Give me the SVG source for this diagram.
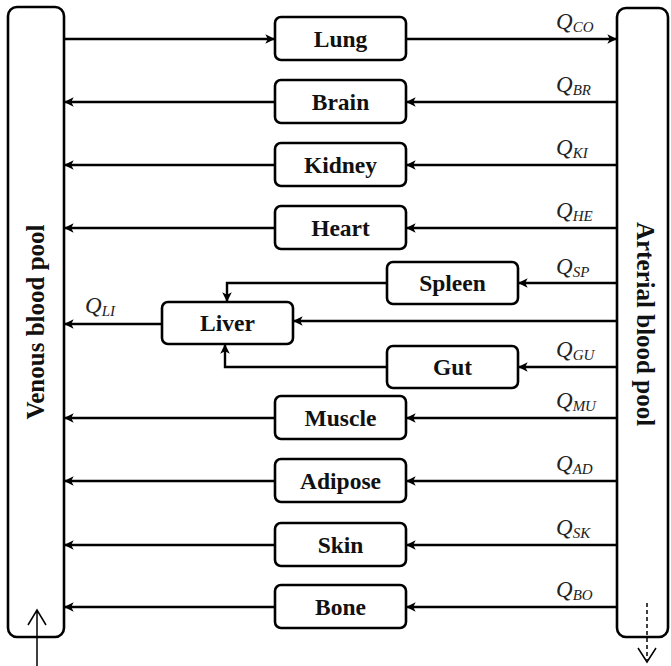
<svg xmlns="http://www.w3.org/2000/svg" width="671" height="666" viewBox="0 0 671 666">
<style>
.box{fill:#fff;stroke:#000;stroke-width:2.6}
.pool{fill:#fff;stroke:#000;stroke-width:2.6}
.lbl{font-family:"Liberation Serif",serif;font-weight:bold;font-size:23.5px;text-anchor:middle;fill:#111}
.pl{font-size:25px}
.q{font-family:"Liberation Serif",serif;font-style:italic;font-size:23px;fill:#222}
.qs{font-size:15px}
.c{fill:none;stroke:#000;stroke-width:2.4}
.t{fill:none;stroke:#000;stroke-width:1.5}
</style>
<defs>
<marker id="ah" viewBox="0 0 10 10" refX="9" refY="5" markerWidth="4" markerHeight="4" orient="auto" markerUnits="strokeWidth">
<path d="M0,0 L10,5 L0,10 L2.5,5 Z" fill="#000"/>
</marker>
</defs>
<g id="venous">
<rect class="pool" x="8" y="7" width="56" height="630" rx="9"/>
<text class="lbl pl" transform="translate(44,322) rotate(-90)">Venous blood pool</text>
</g>
<g id="arterial">
<rect class="pool" x="617" y="8" width="51" height="629" rx="9"/>
<text class="lbl pl" transform="translate(637,324) rotate(90)">Arterial blood pool</text>
</g>
<g id="lung"><rect class="box" x="275" y="17" width="131" height="43" rx="6"/><text class="lbl" x="340.5" y="47">Lung</text></g>
<g id="brain"><rect class="box" x="275" y="80" width="131" height="43" rx="6"/><text class="lbl" x="340.5" y="110">Brain</text></g>
<g id="kidney"><rect class="box" x="275" y="143" width="131" height="43" rx="6"/><text class="lbl" x="340.5" y="173">Kidney</text></g>
<g id="heart"><rect class="box" x="275" y="206" width="131" height="43" rx="6"/><text class="lbl" x="340.5" y="236">Heart</text></g>
<g id="spleen"><rect class="box" x="387" y="262" width="131" height="42" rx="6"/><text class="lbl" x="452.5" y="291">Spleen</text></g>
<g id="liver"><rect class="box" x="162" y="302" width="131" height="42" rx="6"/><text class="lbl" x="227.5" y="331">Liver</text></g>
<g id="gut"><rect class="box" x="387" y="346" width="131" height="42" rx="6"/><text class="lbl" x="452.5" y="375">Gut</text></g>
<g id="muscle"><rect class="box" x="275" y="396" width="131" height="43" rx="6"/><text class="lbl" x="340.5" y="426">Muscle</text></g>
<g id="adipose"><rect class="box" x="275" y="459" width="131" height="43" rx="6"/><text class="lbl" x="340.5" y="489">Adipose</text></g>
<g id="skin"><rect class="box" x="275" y="523" width="131" height="43" rx="6"/><text class="lbl" x="340.5" y="553">Skin</text></g>
<g id="bone"><rect class="box" x="275" y="585" width="131" height="43" rx="6"/><text class="lbl" x="340.5" y="615">Bone</text></g>
<g id="connectors">
<path class="c" d="M64,39 H274" marker-end="url(#ah)"/>
<path class="c" d="M406,39 H616" marker-end="url(#ah)"/>
<path class="c" d="M617,102 H407" marker-end="url(#ah)"/>
<path class="c" d="M275,102 H65" marker-end="url(#ah)"/>
<path class="c" d="M617,165 H407" marker-end="url(#ah)"/>
<path class="c" d="M275,165 H65" marker-end="url(#ah)"/>
<path class="c" d="M617,228 H407" marker-end="url(#ah)"/>
<path class="c" d="M275,228 H65" marker-end="url(#ah)"/>
<path class="c" d="M617,283 H519" marker-end="url(#ah)"/>
<path class="c" d="M387,283 H227 V301" marker-end="url(#ah)"/>
<path class="c" d="M617,321 H294" marker-end="url(#ah)"/>
<path class="c" d="M162,324 H65" marker-end="url(#ah)"/>
<path class="c" d="M617,367 H519" marker-end="url(#ah)"/>
<path class="c" d="M387,367 H225 V345" marker-end="url(#ah)"/>
<path class="c" d="M617,418 H407" marker-end="url(#ah)"/>
<path class="c" d="M275,418 H65" marker-end="url(#ah)"/>
<path class="c" d="M617,481 H407" marker-end="url(#ah)"/>
<path class="c" d="M275,481 H65" marker-end="url(#ah)"/>
<path class="c" d="M617,545 H407" marker-end="url(#ah)"/>
<path class="c" d="M275,545 H65" marker-end="url(#ah)"/>
<path class="c" d="M617,607 H407" marker-end="url(#ah)"/>
<path class="c" d="M275,607 H65" marker-end="url(#ah)"/>
<path class="t" d="M37,666 V611 M28,625 L37,610 L46,625"/>
<path class="t" d="M647,603 V660" stroke-dasharray="4,3"/>
<path class="t" d="M638,648 L647,662 L656,648"/>
</g>
<g id="flow-labels">
<text class="q" x="556" y="29">Q<tspan class="qs" dy="3">CO</tspan></text>
<text class="q" x="556" y="92">Q<tspan class="qs" dy="3">BR</tspan></text>
<text class="q" x="556" y="155">Q<tspan class="qs" dy="3">KI</tspan></text>
<text class="q" x="556" y="218">Q<tspan class="qs" dy="3">HE</tspan></text>
<text class="q" x="556" y="274">Q<tspan class="qs" dy="3">SP</tspan></text>
<text class="q" x="85" y="313">Q<tspan class="qs" dy="3">LI</tspan></text>
<text class="q" x="556" y="357">Q<tspan class="qs" dy="3">GU</tspan></text>
<text class="q" x="556" y="408">Q<tspan class="qs" dy="3">MU</tspan></text>
<text class="q" x="556" y="471">Q<tspan class="qs" dy="3">AD</tspan></text>
<text class="q" x="556" y="535">Q<tspan class="qs" dy="3">SK</tspan></text>
<text class="q" x="556" y="597">Q<tspan class="qs" dy="3">BO</tspan></text>
</g>
</svg>
